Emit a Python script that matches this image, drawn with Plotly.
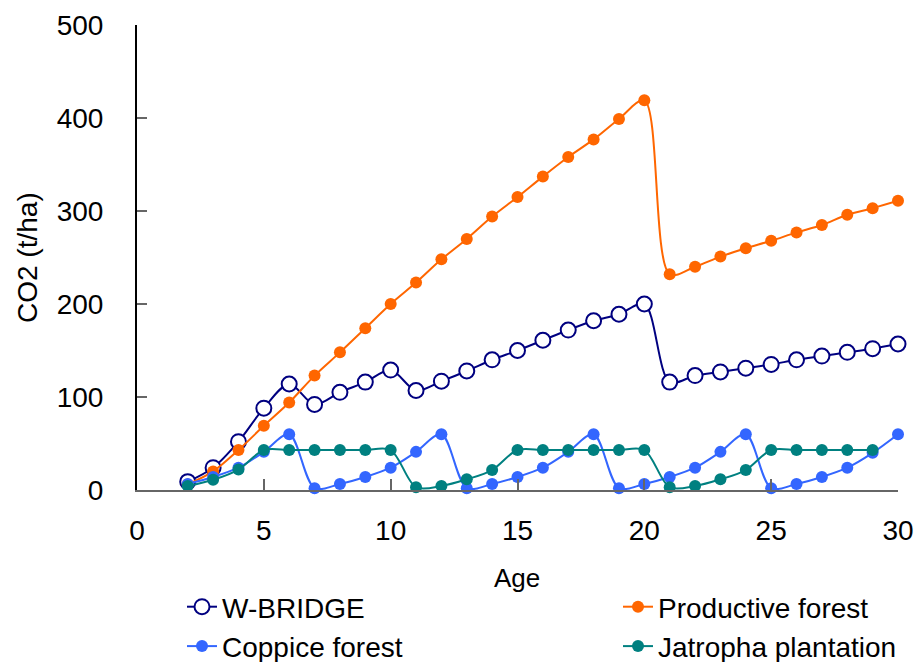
import plotly.graph_objects as go

age = list(range(2, 31))
age_jatropha = list(range(2, 30))

w_bridge = [9, 24, 52, 88, 114, 92, 105, 116, 129, 107, 117, 128, 140, 150, 161, 172, 182, 189, 200,
            116, 123, 127, 131, 135, 140, 144, 148, 152, 157]
productive = [6, 20, 43, 69, 94, 123, 148, 174, 200, 223, 248, 270, 294, 315, 337, 358, 377, 399, 419,
              232, 240, 251, 260, 268, 277, 285, 296, 303, 311]
coppice = [6.5, 14, 24, 41, 60, 2, 6.5, 14, 24, 41, 60, 2, 6.5, 14, 24, 41, 60, 2, 6.5, 14, 24, 41, 60,
           2, 6.5, 14, 24, 40, 60]
jatropha = [4.3, 11, 22, 43, 43, 43, 43, 43, 43, 3, 4.3, 11.5, 21.5, 43, 43, 43, 43, 43, 43,
            3, 4.3, 11.5, 21.5, 43, 43, 43, 43, 43]

FONT = "Liberation Sans"

fig = go.Figure()
fig.add_trace(go.Scatter(
    x=age, y=w_bridge, name="W-BRIDGE", mode="lines+markers", legend="legend",
    line=dict(color="#000080", width=2, shape="spline", smoothing=0.9),
    marker=dict(symbol="circle", size=15, color="white", line=dict(color="#000080", width=2)),
    cliponaxis=False))
fig.add_trace(go.Scatter(
    x=age, y=productive, name="Productive forest", mode="lines+markers", legend="legend2",
    line=dict(color="#FF6600", width=2, shape="spline", smoothing=0.9),
    marker=dict(symbol="circle", size=12, color="#FF6600"),
    cliponaxis=False))
fig.add_trace(go.Scatter(
    x=age, y=coppice, name="Coppice forest", mode="lines+markers", legend="legend",
    line=dict(color="#3366FF", width=2, shape="spline", smoothing=0.9),
    marker=dict(symbol="circle", size=12, color="#3366FF"),
    cliponaxis=False))
fig.add_trace(go.Scatter(
    x=age_jatropha, y=jatropha, name="Jatropha plantation", mode="lines+markers", legend="legend2",
    line=dict(color="#008080", width=2, shape="spline", smoothing=0.9),
    marker=dict(symbol="circle", size=12, color="#008080"),
    cliponaxis=False))

legend_common = dict(
    orientation="v", xref="container", yref="container",
    xanchor="left", yanchor="top",
    font=dict(family=FONT, size=28), itemsizing="trace",
    tracegroupgap=0, bgcolor="rgba(0,0,0,0)", traceorder="normal",
)

W, H = 914, 662
L, R, T, B = 137, 16, 25, 172
pw, ph = W - L - R, H - T - B

fig.update_layout(
    width=W, height=H,
    margin=dict(l=L, r=R, t=T, b=B, autoexpand=False),
    paper_bgcolor="white", plot_bgcolor="white",
    font=dict(family=FONT, color="black", size=27),
    showlegend=True,
    legend=dict(x=182 / W, y=1 - 582 / H, **legend_common),
    legend2=dict(x=618 / W, y=1 - 582 / H, **legend_common),
    xaxis=dict(
        range=[0, 30], dtick=5, tick0=0, ticks="inside", ticklen=11, tickwidth=1.5,
        tickcolor="#666666", showline=True, linecolor="#666666", linewidth=2,
        showgrid=False, zeroline=False, automargin=False, ticklabelstandoff=14,
        tickfont=dict(family=FONT, size=28),
    ),
    yaxis=dict(
        range=[0, 500], dtick=100, tick0=0, ticks="inside", ticklen=10, tickwidth=1.5,
        tickcolor="#666666", showline=True, linecolor="black", linewidth=2,
        showgrid=False, zeroline=False, automargin=False, ticklabelstandoff=26,
        tickfont=dict(family=FONT, size=28),
    ),
    annotations=[
        dict(text="Age", xref="paper", yref="paper",
             x=(517 - L) / pw, y=(H - B - 578) / ph, xanchor="center", yanchor="middle",
             showarrow=False, font=dict(family=FONT, size=26)),
        dict(text="CO2 (t/ha)", xref="paper", yref="paper", textangle=-90,
             x=(27 - L) / pw, y=(H - B - 258) / ph, xanchor="center", yanchor="middle",
             showarrow=False, font=dict(family=FONT, size=28)),
    ],
)

fig.write_html("out.html")
